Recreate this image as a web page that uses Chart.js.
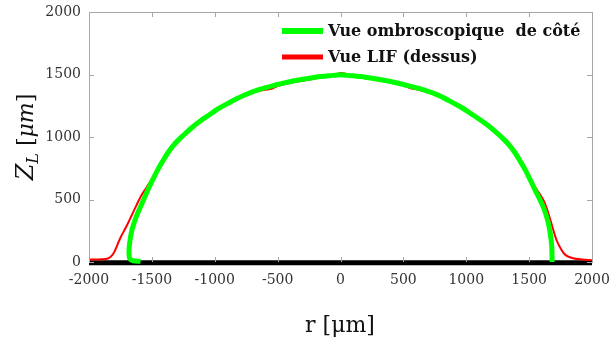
<!DOCTYPE html>
<html>
<head>
<meta charset="utf-8">
<script src="https://cdn.jsdelivr.net/npm/chart.js@4.4.1/dist/chart.umd.min.js"></script>
<style>
  html, body { margin: 0; padding: 0; background: #fff; }
  #wrap { width: 609px; height: 340px; position: relative; }
</style>
</head>
<body>
<div id="wrap"><canvas id="chart"></canvas></div>
<script>
// profile, r and Z_L in µm
const greenR = [-1590, -1650, -1675, -1682, -1677, -1660, -1627, -1600, -1574, -1535, -1495, -1455, -1415, -1375, -1335, -1290, -1240, -1176, -1110, -1040, -975, -909, -780, -644, -500, -378, -200, -59, 0, 59, 200, 378, 500, 644, 780, 909, 975, 1040, 1110, 1176, 1240, 1305, 1350, 1390, 1430, 1470, 1510, 1550, 1590, 1620, 1648, 1668, 1680, 1683];
const greenZ = [5, 10, 25, 70, 150, 250, 355, 420, 480, 570, 655, 735, 805, 870, 925, 975, 1022, 1080, 1132, 1180, 1225, 1262, 1328, 1381, 1420, 1448, 1478, 1493, 1498, 1493, 1478, 1448, 1420, 1383, 1333, 1266, 1228, 1185, 1138, 1090, 1035, 975, 925, 870, 805, 735, 655, 570, 490, 420, 330, 230, 120, 0];

const redR = [-2000, -1900, -1850, -1815, -1790, -1765, -1747, -1700, -1662, -1627, -1585, -1540, -1500, -1460, -1420, -1380, -1340, -1295, -1245, -1180, -1110, -1045, -975, -909, -780, -644, -550, -500, -378, -230, -150, -59, 0, 60, 150, 200, 300, 378, 500, 560, 644, 780, 909, 1040, 1180, 1245, 1310, 1355, 1398, 1440, 1480, 1520, 1560, 1590, 1614, 1640, 1665, 1694, 1720, 1750, 1790, 1850, 1920, 2000];
const redZ = [20, 22, 28, 55, 100, 160, 200, 290, 370, 445, 530, 600, 665, 740, 808, 872, 925, 970, 1017, 1075, 1128, 1175, 1220, 1258, 1322, 1370, 1386, 1408, 1438, 1462, 1478, 1490, 1512, 1500, 1485, 1468, 1460, 1442, 1412, 1390, 1372, 1328, 1262, 1182, 1086, 1030, 972, 922, 865, 800, 728, 650, 580, 535, 495, 430, 350, 250, 170, 110, 55, 30, 20, 15];

const baseR = [-2000, 2000];
const baseZ = [-6, -6];

const xTicks = [-2000, -1500, -1000, -500, 0, 500, 1000, 1500, 2000];
const yTicks = [0, 500, 1000, 1500, 2000];

const legendLabels = ["Vue ombroscopique  de côté", "Vue LIF (dessus)"];

function toPoints(xs, ys) {
  return xs.map((x, i) => ({ x: x, y: ys[i] }));
}

const frame = {
  id: "frame",
  afterDatasetsDraw(chart) {
    const { ctx, chartArea: a, scales } = chart;
    ctx.save();
    ctx.strokeStyle = "#a6a6a6";
    ctx.lineWidth = 1;
    ctx.beginPath();
    ctx.moveTo(a.left, a.top + 0.5);
    ctx.lineTo(a.right + 0.5, a.top + 0.5);
    ctx.lineTo(a.right + 0.5, a.bottom);
    ctx.stroke();

    // inward ticks on all four sides
    ctx.beginPath();
    xTicks.forEach((v) => {
      const px = Math.round(scales.x.getPixelForValue(v)) + 0.5;
      ctx.moveTo(px, a.top);
      ctx.lineTo(px, a.top + 5);
      ctx.moveTo(px, a.bottom);
      ctx.lineTo(px, a.bottom - 5);
    });
    yTicks.forEach((v) => {
      const py = Math.round(scales.y.getPixelForValue(v)) + 0.5;
      ctx.moveTo(a.left, py);
      ctx.lineTo(a.left + 5, py);
      ctx.moveTo(a.right, py);
      ctx.lineTo(a.right - 5, py);
    });
    ctx.stroke();
    ctx.restore();
  },
  afterDraw(chart) {
    const { ctx } = chart;
    ctx.save();

    // legend
    const colors = ["#00ff00", "#ff0000"];
    const widths = [6, 5];
    const rows = [31, 57];
    ctx.font = "bold 16px 'DejaVu Serif'";
    ctx.textBaseline = "middle";
    legendLabels.forEach((label, i) => {
      ctx.strokeStyle = colors[i];
      ctx.lineWidth = widths[i];
      ctx.beginPath();
      ctx.moveTo(282, rows[i]);
      ctx.lineTo(323, rows[i]);
      ctx.stroke();
      ctx.fillStyle = "#111";
      ctx.fillText(label, 328, rows[i] + 1);
    });

    // x title
    ctx.fillStyle = "#111";
    ctx.font = "22px 'DejaVu Serif'";
    ctx.textAlign = "center";
    ctx.textBaseline = "alphabetic";
    ctx.fillText("r [μm]", 340, 332);

    // y title with subscript
    ctx.translate(33, 137);
    ctx.rotate(-Math.PI / 2);
    const parts = [
      { t: "Z", f: "italic 24px 'DejaVu Serif'", dy: 0 },
      { t: "L", f: "italic 16px 'DejaVu Serif'", dy: 5 },
      { t: " [", f: "22px 'DejaVu Serif'", dy: 0 },
      { t: "μm", f: "italic 22px 'DejaVu Serif'", dy: 0 },
      { t: "]", f: "22px 'DejaVu Serif'", dy: 0 }
    ];
    let total = 0;
    parts.forEach((p) => { ctx.font = p.f; total += ctx.measureText(p.t).width; });
    let x = -total / 2;
    ctx.textAlign = "left";
    parts.forEach((p) => {
      ctx.font = p.f;
      ctx.fillText(p.t, x, p.dy);
      x += ctx.measureText(p.t).width;
    });
    ctx.restore();
  }
};

new Chart(document.getElementById("chart"), {
  type: "line",
  data: {
    datasets: [
      {
        label: legendLabels[0],
        data: toPoints(greenR, greenZ),
        borderColor: "#00ff00",
        borderWidth: 5,
        pointRadius: 0,
        tension: 0.35,
        clip: false
      },
      {
        label: legendLabels[1],
        data: toPoints(redR, redZ),
        borderColor: "#ff0000",
        borderWidth: 2,
        pointRadius: 0,
        tension: 0.35,
        clip: false
      },
      {
        label: "base",
        data: toPoints(baseR, baseZ),
        borderColor: "#000000",
        borderWidth: 5,
        pointRadius: 0,
        clip: false
      }
    ]
  },
  options: {
    responsive: true,
    maintainAspectRatio: false,
    animation: false,
    layout: { padding: { left: 0, right: 17, top: 12, bottom: 0 } },
    plugins: {
      legend: { display: false },
      tooltip: { enabled: false }
    },
    scales: {
      x: {
        type: "linear",
        min: -2000,
        max: 2000,
        afterBuildTicks: (s) => { s.ticks = xTicks.map((v) => ({ value: v })); },
        afterFit: (s) => { s.height = 78; s.paddingLeft = 0; s.paddingRight = 0; },
        grid: { display: false, drawTicks: false },
        border: { display: true, color: "#a6a6a6" },
        ticks: {
          padding: 10,
          color: "#333",
          font: { family: "'DejaVu Serif'", size: 14 },
          maxRotation: 0,
          autoSkip: false,
          callback: (v) => String(v)
        }
      },
      y: {
        type: "linear",
        min: 0,
        max: 2000,
        afterBuildTicks: (s) => { s.ticks = yTicks.map((v) => ({ value: v })); },
        afterFit: (s) => { s.width = 89; s.paddingTop = 0; s.paddingBottom = 0; },
        grid: { display: false, drawTicks: false },
        border: { display: true, color: "#a6a6a6" },
        ticks: {
          padding: 8,
          color: "#333",
          font: { family: "'DejaVu Serif'", size: 14 },
          callback: (v) => String(v)
        }
      }
    }
  },
  plugins: [frame]
});
</script>
</body>
</html>
